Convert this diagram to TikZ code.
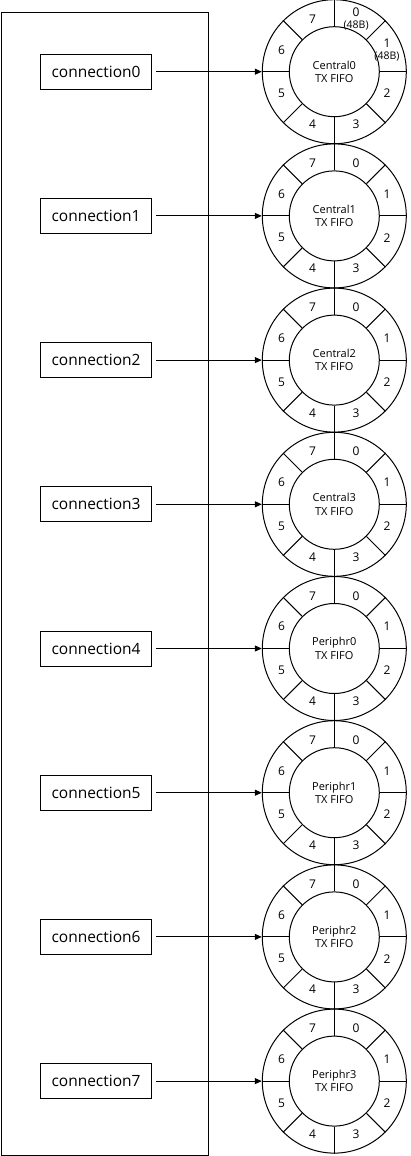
\documentclass[tikz,border=0pt]{standalone}
\usepackage{fontspec}
\setmainfont{Open Sans}
\usetikzlibrary{arrows.meta,calc,positioning}
\newcommand{\sizetag}{\fontsize{10.5}{12}\selectfont}
\tikzset{
    connbox/.style   = {rectangle, draw, line width=1pt, minimum width=111pt,
                        minimum height=35pt, inner sep=0pt,
                        font=\fontsize{15.5}{18}\selectfont},
    fifoouter/.style = {circle, draw, line width=1pt, minimum size=144pt, inner sep=0pt},
    fifoinner/.style = {circle, draw, line width=1pt, minimum size=90pt, inner sep=0pt,
                        align=center, font=\fontsize{11}{13.4}\selectfont},
    slotlabel/.style = {inner sep=0pt, align=center, font=\fontsize{12}{13}\selectfont},
    feedArrow/.style = {-{Triangle[length=7pt,width=6pt]}, line width=1pt, shorten <=4pt}
}
\begin{document}
\begin{tikzpicture}[x=1pt, y=-1pt]
\useasboundingbox (0,0) rectangle (410,1156);
% surrounding frame of the connections
\draw[line width=1pt] (1,12.5) rectangle (208.5,1155);
\foreach \i/\name in {0/Central0,1/Central1,2/Central2,3/Central3,
                      4/Periphr0,5/Periphr1,6/Periphr2,7/Periphr3} {
   \node[connbox]   (conn\i) at (96,71.7+144.2*\i) {connection\i};
   \node[fifoouter] (ring\i) at (334.3,71.7+144.2*\i) {};
   \node[fifoinner] (fifo\i) at (ring\i) {\name\\TX FIFO};
   \foreach \ang in {0,45,...,315}
      \draw[line width=1pt] (fifo\i.\ang) -- (ring\i.\ang);
   \draw[feedArrow] (conn\i) -- (ring\i);
}
% slot numbers
\foreach \i in {1,...,7}
   \foreach \j in {0,...,7}
      \node[slotlabel] (slot\i-\j) at ($(ring\i)+({67.5-45*\j}:57pt)$) {\j};
\foreach \j in {2,...,7}
   \node[slotlabel] (slot0-\j) at ($(ring0)+({67.5-45*\j}:57pt)$) {\j};
\node[slotlabel] (slot0-0) at ($(ring0)+(67.5:57pt)$) {0\\[-1pt]{\sizetag(48B)}};
\node[slotlabel] (slot0-1) at ($(ring0)+(22.5:57pt)$) {1\\[-1pt]{\sizetag(48B)}};
\end{tikzpicture}
\end{document}
